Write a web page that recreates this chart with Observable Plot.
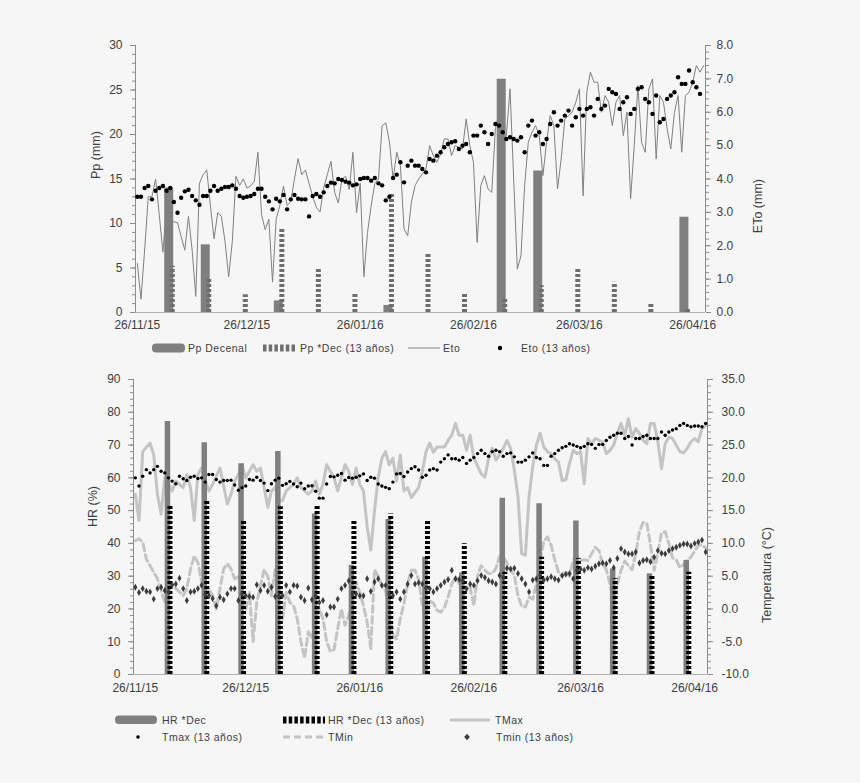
<!DOCTYPE html>
<html>
<head>
<meta charset="utf-8">
<script src="https://cdn.jsdelivr.net/npm/d3@7"></script>
<script src="https://cdn.jsdelivr.net/npm/@observablehq/plot@0.6"></script>
<style>
  html, body { margin: 0; padding: 0; background: #f6f6f6; }
  #root { position: relative; width: 860px; height: 783px; font-family: "Liberation Sans", Arial, sans-serif; color: #404040; }
  .abs { position: absolute; }
  .lg { position: absolute; font-size: 10.5px; line-height: 12px; letter-spacing: 0.5px; color: #404040; white-space: nowrap; }
</style>
</head>
<body>
<div id="root">
  <div id="top" class="abs" style="left:0;top:0"></div>
  <div id="leg1" class="abs" style="left:0;top:340px;width:860px;height:20px"></div>
  <div id="bot" class="abs" style="left:0;top:360px"></div>
  <div id="leg2" class="abs" style="left:0;top:705px;width:860px;height:45px"></div>
</div>
<script>
// ---------- DATA ----------
const tickDays = [0, 30, 61, 92, 121, 152];
const tickLabels = ["26/11/15", "26/12/15", "26/01/16", "26/02/16", "26/03/16", "26/04/16"];

// dekad positions (day index from 26/11/15)
const dekadDays = [9, 19, 29, 39, 49, 59, 69, 79, 89, 100, 110, 120, 130, 140, 150];
const ppDecenal = [14.0, 7.6, 0, 1.3, 0, 0, 0.8, 0, 0, 26.2, 15.9, 0, 0, 0, 10.7];
const ppDec13 = [5.2, 3.7, 2.0, 9.5, 5.0, 2.2, 13.4, 6.7, 2.1, 1.5, 3.0, 5.0, 3.4, 0.9, 0.45];

// daily ETo (mm), day 0 = 26/11/15
const etoDaily = [
  1.47, 0.40, 1.87, 3.47, 3.47, 4.00, 2.93, 1.81, 3.20, 2.72,
  2.72, 2.69, 2.27, 1.87, 2.88, 1.87, 0.48, 3.87, 4.13, 4.27,
  3.20, 2.21, 2.99, 2.88, 2.13, 1.07, 2.13, 4.08, 3.81, 4.00,
  3.73, 3.79, 3.92, 4.80, 2.93, 2.48, 2.80, 0.91, 2.80, 3.20,
  3.79, 3.20, 3.33, 4.00, 4.61, 4.13, 4.27, 3.87, 3.47, 3.15,
  3.01, 3.73, 4.13, 4.53, 3.60, 3.28, 4.00, 4.08, 3.68, 4.80,
  2.99, 3.87, 1.07, 2.40, 3.20, 3.87, 4.00, 5.60, 5.68, 5.12,
  4.00, 4.80, 4.40,
  2.5, 2.3, 3.3, 3.8, 4.0, 4.15, 4.3, 5.0, 4.7, 4.5,
  4.75, 5.2, 5.2, 4.7, 5.0, 4.95, 4.9, 5.8, 5.0, 4.5,
  2.1, 3.8, 4.1, 3.7, 3.6, 5.5, 6.0, 5.1, 5.3, 6.7,
  4.0, 1.3, 1.7, 3.8, 5.1, 5.4, 5.6, 5.3, 4.1, 5.1,
  5.9, 5.6, 3.7, 4.6, 5.8, 5.9, 6.0, 6.3, 6.7, 3.5,
  6.6, 7.2, 6.9, 6.9, 6.0, 6.5, 6.3, 5.6, 6.3, 6.5,
  5.3, 6.0, 3.4, 5.0, 6.8, 5.1, 4.8, 6.7, 7.0, 4.6,
  6.5, 6.3, 5.5, 4.9, 6.0, 6.5, 4.8, 6.5, 6.6, 6.9,
  7.4, 7.2, 7.4
];

// daily ETo 13-year mean (mm)
const etoAvg13 = [
  3.47, 3.47, 3.73, 3.79, 3.39, 3.65, 3.73, 3.79, 3.65, 3.73,
  3.31, 2.99, 3.44, 3.63, 3.68, 3.49, 3.36, 3.23, 3.49, 3.49,
  3.65, 3.79, 3.65, 3.71, 3.76, 3.76, 3.81, 3.71, 3.49, 3.44,
  3.47, 3.49, 3.55, 3.71, 3.71, 3.47, 3.33, 3.09, 3.41, 3.33,
  3.52, 3.09, 3.39, 3.52, 3.41, 3.39, 3.39, 2.88, 3.49, 3.55,
  3.47, 3.60, 3.79, 3.89, 3.87, 4.00, 3.97, 3.92, 3.89, 3.81,
  3.84, 4.00, 4.03, 4.03, 3.95, 4.03, 3.87, 3.81, 3.36, 3.47,
  4.03, 4.13,
  4.5, 3.9, 4.4, 4.55, 4.4, 4.4, 4.3, 4.2, 4.6, 4.55,
  4.7, 4.8, 4.95, 5.05, 5.1, 5.13, 4.9, 5.0, 5.05, 4.8,
  5.3, 5.3, 5.6, 5.4, 5.05, 5.35, 5.65, 5.6, 5.4, 5.2,
  5.25, 5.2, 5.15, 5.25, 4.8, 5.6, 5.75, 5.3, 5.4, 5.05,
  5.2, 5.65, 6.0, 5.6, 5.75, 5.9, 6.05, 5.6, 5.85, 6.1,
  5.9, 6.1, 6.15, 5.9, 6.4, 6.1, 6.2, 6.7, 6.6, 6.55,
  6.1, 6.3, 6.45, 5.95, 6.1, 6.7, 6.75, 6.4, 6.3, 5.95,
  6.5, 5.7, 5.8, 6.4, 6.5, 6.6, 7.05, 6.85, 6.85, 7.25,
  6.9, 6.75, 6.55
];

// HR per dekad (%)
const hrDec = [77.2, 70.7, 64.3, 68.0, 49.0, 33.3, 47.3, 35.8, 31.0, 53.8, 52.1, 46.8, 32.2, 30.7, 34.8];
const hrDec13 = [51.6, 53.3, 47.0, 51.2, 51.3, 46.8, 49.0, 46.8, 39.9, 31.2, 35.8, 35.3, 29.2, 30.2, 31.2];

// daily max temperature (°C)
const tmaxDays = [0,1,2,4,5,6,7,8,9,10,11,13,14,15,16,17,18,19,20,21,23,25,26,27,28,29,30,31,32,33,34,36,37,38,39,40,41,43,44,45,47,48,49,50,51,52,54,55,56,57,58,59,60,61,62,63,64,65,66,67,68,69,70,71,72,73,74,75,77,78,79,80,81,82,84,85,86,87,88,89,90,91,92,94,95,96,97,98,100,101,102,103,104,105,106,107,108,109,110,111,112,113,114,115,116,117,118,119,120,121,122,123,124,125,127,128,129,130,131,132,133,134,135,136,137,138,139,140,141,142,143,144,145,146,147,148,149,150,151,152,153,154,155];
const tmaxVals = [17.5,13.5,24,25.3,23.5,17.5,14.5,20,19,18,19.5,18.5,20.5,18.5,13.5,20.5,21.5,19.5,18,19,21.5,16,17.5,19.5,20.5,22,20,21,22,21,21.5,15.5,18,18.5,16.5,16.5,18,19,20,18.5,17.5,18,19.5,17.5,19,22,20,18,20,22,21,19,21.5,19,18,12.5,9,15,20,23,24,22,23,19.5,23.5,18,18.5,17,18.5,21,24,25.3,23.9,24.7,24.7,25.7,26.5,28.3,26.5,26.5,24.2,26.5,23.0,20.6,20.1,22.9,24.5,22.7,24.5,25.7,24.5,21.2,17.1,8.4,8.2,17.1,21.7,25.0,26.8,24.7,24.0,23.7,22.9,22.4,19.6,19.7,22.2,24.2,23.7,24.0,19.1,26.0,25.2,26.0,25.5,23.7,24.2,25.0,26.8,28.3,26.5,29.0,26.2,27.5,26.8,25.7,25.2,28.3,28.3,25.5,21.4,25.2,26.2,26.0,25.0,24.0,23.8,24.5,25.5,26.0,25.5,27.5,28.0];

// daily Tmax 13-year mean (°C)
const tmax13 = [
  20, 18.75, 20.25, 21.25, 20.75, 21.25, 21.75, 21, 20.75, 20,
  19.5, 19.1, 20.25, 19.85, 19.6, 20.1, 20.25, 19.9, 20, 19.35,
  20.5, 20.5, 19.75, 19.35, 19.6, 19.6, 19.65, 18.9, 18.1, 18.5,
  18.75, 19.75, 19.65, 20.1, 19.6, 19.2, 18.05, 19.1, 19.65, 19.95,
  18.85, 19.1, 19.45, 19.05, 18.65, 19.2, 18.35, 18.75, 18.8, 17.95,
  16.9, 16.9, 19.05, 20.2, 20.15, 20.4, 20.65, 19.65, 20.05, 19.95,
  20.1, 20.3, 20.6, 19.6, 20.1, 19.95, 19.05, 18.75, 18.55, 18.35,
  19.35, 20.6,
  20.65, 20.2, 20.9, 21.4, 21.7, 21.2, 20.1, 20.4, 21.2, 21.4,
  21.2, 22.4, 22.9, 23.5, 22.9, 22.9, 22.7, 23.1, 22.2, 22.7,
  23.1, 23.7, 24.2, 23.7, 23.3, 24.0, 24.2, 24.0, 23.3, 23.7,
  23.8, 23.2, 22.4, 22.4, 22.7, 23.2, 23.8, 23.1, 22.9, 21.9,
  21.9, 23.3, 23.7, 24.2, 24.6, 24.8, 25.2, 25.0, 24.8, 24.6,
  24.8, 25.2, 25.1, 24.5, 25.1, 25.1, 25.7, 26.2, 26.5, 26.8,
  26.8, 26.0, 26.3, 25.0, 26.0, 26.0, 26.3, 26.5, 26.0, 26.0,
  26.0, 27.0, 26.5, 27.0, 27.3, 27.5, 28.0, 28.3, 28.0, 27.8,
  27.9, 27.9, 27.8, 28.3
];

// daily min temperature (°C)
const tmin = [
  10.4, 10.7, 10.2, 7.6, 6.6, 5.6, 4.6, 2.8, 1.0, 2.6,
  3.8, 3.1, 2.6, 2.0, 3.1, 6.1, 8.1, 7.1, 4.1, 2.6,
  3.1, 2.0, 0.0, 3.1, 6.1, 6.9, 6.1, 4.6, 5.1, 2.0,
  0.0, 2.5, -5.0, 1.0, 3.5, 6.0, 5.0, 2.0, 6.0, 0.0,
  -1.5, 2.5, 1.0, 0.5, -1.5, -5.0, -7.5, -3.5, -4.5, -2.0,
  0.0, -1.5, -5.0, -6.5, -6.2, -3.0, 0.0, -2.5, -1.0, 1.5,
  4.1, 2.5, 0.5, -2.0, -6.1, 6.0, 5.0, 3.5, 2.8, 0.0,
  -4.0, -4.6, -1.5,
  0.8, 3.8, 5.9, 5.9, 4.5, 0.5, -1.8, 1.2, 0.9, -0.2,
  -0.5, 0.2, 1.8, 3.8, 4.9, 3.8, 1.8, 2.8, 3.3, 0.5,
  5.0, 6.6, 5.9, 5.4, 5.4, 6.2, 8.0, 8.0, 7.0, 5.9,
  5.2, 2.0, 0.4, 0.3, 1.8, 1.5, 3.8, 7.5, 10.3, 11.0,
  9.7, 7.5, 5.6, 4.9, 5.8, 5.0, 7.5, 8.1, 7.4, 7.5,
  7.4, 8.4, 9.4, 8.9, 6.9, 6.0, 3.8, 1.1, 3.8, 5.9,
  7.3, 6.6, 6.0, 8.5, 11.8, 13.2, 13.1, 9.8, 5.9, 8.6,
  11.6, 11.8, 10.0, 7.8, 7.5, 6.3, 6.8, 7.4, 7.9, 8.8,
  9.7, 9.8, 9.3
];

// daily Tmin 13-year mean (°C)
const tmin13 = [
  3.3, 2.5, 3.1, 2.7, 2.6, 1.5, 3.1, 3.3, 2.8, 2.6,
  3.7, 3.8, 4.7, 3.1, 1.3, 2.6, 2.7, 3.1, 3.6, 2.2,
  2.0, 1.6, 0.5, 1.8, 1.4, 2.3, 3.1, 3.1, 1.3, 2.3,
  2.0, 1.9, 1.8, 3.7, 2.8, 3.6, 2.7, 3.3, 1.9, 2.0,
  2.0, 3.6, 2.6, 3.6, 3.5, 1.8, 1.3, 3.2, 1.4, 2.0,
  1.0,
  1.3, -0.9, 0.3, 0.3, 1.5, 3.1, 3.6, 4.3, 2.3, 2.3,
  2.0, 2.0, 4.6, 2.7, 4.1, 4.6, 3.6, 3.6, 2.3, 2.0,
  2.6, 1.5, 2.6, 3.8, 5.1, 3.8, 4.0, 3.8, 3.2, 3.1,
  2.6, 3.1, 3.6, 4.1, 4.5, 5.9, 4.6, 4.5, 4.3, 3.1,
  3.8, 3.6, 4.3, 5.1, 4.8, 4.3, 4.1, 3.8, 5.1, 4.8,
  6.2, 6.1, 6.2,
  5.4, 4.6, 3.8, 2.6, 4.4, 4.6, 5.1, 4.4, 4.6, 4.9,
  4.6, 4.4, 5.1, 5.3, 5.4, 4.6, 5.9, 6.1, 5.9, 6.3,
  6.1, 6.5, 6.9, 7.0, 6.9, 7.4, 6.3, 7.7, 9.2, 8.7,
  8.4, 8.4, 8.7, 7.0, 7.4, 7.5, 7.2, 7.9, 8.9, 8.5,
  8.4, 8.9, 9.2, 9.4, 9.7, 9.9, 9.9, 9.6, 10.0, 10.2,
  10.5, 8.7
];

// ---------- CHARTS ----------
const FONT = '"Liberation Sans", Arial, sans-serif';
const AX = "#8c8c8c", TXT = "#404040";
const ppToEto = 8 / 30;            // right-axis conversion (top)
const hrOfT = t => (t + 10) * 2;   // temperature -> HR scale (bottom)
const xFmt = d => tickLabels[tickDays.indexOf(d)];

const topChart = Plot.plot({
  width: 860, height: 340,
  marginLeft: 135, marginRight: 155, marginTop: 45, marginBottom: 28,
  style: { background: "transparent", fontFamily: FONT, fontSize: "12px", color: TXT },
  x: { domain: [-0.5, 155.5] },
  y: { domain: [0, 30] },
  marks: [
    Plot.axisY({ ticks: d3.range(0, 31, 1), tickSize: 3, tickFormat: () => "", stroke: AX, label: null }),
    Plot.axisY({ ticks: d3.range(0, 31, 5), tickSize: 5, tickPadding: 8, stroke: AX, fill: TXT, label: null }),
    Plot.axisY({ anchor: "right", ticks: d3.range(0, 41, 1).map(v => v * 0.2 / ppToEto), tickSize: 3, tickFormat: () => "", stroke: AX, label: null }),
    Plot.axisY({ anchor: "right", ticks: d3.range(0, 9).map(v => v / ppToEto), tickSize: 5, tickPadding: 6, stroke: AX, fill: TXT, tickFormat: v => (v * ppToEto).toFixed(1), label: null }),
    Plot.axisX({ ticks: tickDays, tickSize: 0, tickPadding: 8, tickFormat: xFmt, fill: TXT, label: null }),
    Plot.ruleX([-0.5], { stroke: AX }),
    Plot.ruleX([155.5], { stroke: AX }),
    Plot.ruleY([0], { stroke: "#b0b0b0" }),
    Plot.line(etoDaily, { x: (d, i) => i, y: d => d / ppToEto, stroke: "#808080", strokeWidth: 1 }),
    Plot.ruleX(ppDecenal, { x: (d, i) => dekadDays[i], y1: 0, y2: d => d, stroke: "#7f7f7f", strokeWidth: 9, dx: -1.5 }),
    Plot.ruleX(ppDec13, { x: (d, i) => dekadDays[i], y1: 0, y2: d => d, stroke: "#6e6e6e", strokeWidth: 5, strokeDasharray: "3,2", dx: 2 }),
    Plot.dot(etoAvg13, { x: (d, i) => i, y: d => d / ppToEto, r: 2.2, fill: "#000", stroke: "none" }),
    Plot.text(["Pp (mm)"], { frameAnchor: "left", dx: -40, rotate: -90, fontSize: 12.5, fill: TXT }),
    Plot.text(["ETo (mm)"], { frameAnchor: "right", dx: 52, rotate: -90, fontSize: 12.5, fill: TXT })
  ]
});
document.getElementById("top").appendChild(topChart);

const tmaxData = tmaxDays.map((d, i) => ({ d, v: tmaxVals[i] }));

const botChart = Plot.plot({
  width: 860, height: 340,
  marginLeft: 133, marginRight: 153, marginTop: 19, marginBottom: 26,
  style: { background: "transparent", fontFamily: FONT, fontSize: "12px", color: TXT },
  x: { domain: [-0.5, 155.5] },
  y: { domain: [0, 90] },
  marks: [
    Plot.axisY({ ticks: d3.range(0, 91, 2), tickSize: 3, tickFormat: () => "", stroke: AX, label: null }),
    Plot.axisY({ ticks: d3.range(0, 91, 10), tickSize: 5, tickPadding: 8, stroke: AX, fill: TXT, label: null }),
    Plot.axisY({ anchor: "right", ticks: d3.range(-10, 36, 1).map(hrOfT), tickSize: 3, tickFormat: () => "", stroke: AX, label: null }),
    Plot.axisY({ anchor: "right", ticks: d3.range(-10, 36, 5).map(hrOfT), tickSize: 5, tickPadding: 9, stroke: AX, fill: TXT, tickFormat: v => (v / 2 - 10).toFixed(1), label: null }),
    Plot.axisX({ ticks: tickDays, tickSize: 0, tickPadding: 9, tickFormat: xFmt, fill: TXT, label: null }),
    Plot.ruleX([-0.5], { stroke: AX }),
    Plot.ruleX([155.5], { stroke: AX }),
    Plot.ruleY([0], { stroke: "#b0b0b0" }),
    Plot.line(tmaxData, { x: "d", y: r => hrOfT(r.v), stroke: "#c4c4c4", strokeWidth: 3, curve: "linear" }),
    Plot.line(tmin, { x: (d, i) => i, y: d => hrOfT(d), stroke: "#c4c4c4", strokeWidth: 3, strokeDasharray: "7,4" }),
    Plot.ruleX(hrDec, { x: (d, i) => dekadDays[i], y1: 0, y2: d => d, stroke: "#7f7f7f", strokeWidth: 5.5, dx: -1 }),
    Plot.ruleX(hrDec13, { x: (d, i) => dekadDays[i], y1: 0, y2: d => d, stroke: "#000", strokeWidth: 5, strokeDasharray: "3,2", dx: 1.5 }),
    Plot.dot(tmax13, { x: (d, i) => i, y: d => hrOfT(d), r: 1.7, fill: "#000", stroke: "none" }),
    Plot.dot(tmin13, { x: (d, i) => i, y: d => hrOfT(d), r: 2.1, symbol: "diamond", fill: "#3c3c3c", stroke: "none" }),
    Plot.text(["HR (%)"], { frameAnchor: "left", dx: -41, rotate: -90, fontSize: 12.5, fill: TXT }),
    Plot.text(["Temperatura (°C)"], { frameAnchor: "right", dx: 59, rotate: -90, fontSize: 12.5, fill: TXT })
  ]
});
document.getElementById("bot").appendChild(botChart);

// ---------- LEGENDS ----------
function sw(left, top, w, h, inner) {
  return `<svg class="abs" style="left:${left}px;top:${top}px;overflow:visible" width="${w}" height="${h}">${inner}</svg>`;
}
function lbl(left, top, text) {
  return `<div class="lg" style="left:${left}px;top:${top}px">${text}</div>`;
}
document.getElementById("leg1").innerHTML =
  sw(152, 3, 34, 10, `<rect x="0" y="0.5" width="33" height="9" rx="4" fill="#7f7f7f"/>`) + lbl(188, 2, "Pp Decenal") +
  sw(263, 3, 35, 10, `<line x1="0" y1="5" x2="34" y2="5" stroke="#6e6e6e" stroke-width="7" stroke-dasharray="3.5,2.2"/>`) + lbl(300, 2, "Pp *Dec (13 años)") +
  sw(408, 3, 33, 10, `<line x1="0" y1="5" x2="32" y2="5" stroke="#808080" stroke-width="1"/>`) + lbl(443, 2, "Eto") +
  sw(496, 3, 8, 10, `<circle cx="4" cy="5" r="2.2" fill="#000"/>`) + lbl(521, 2, "Eto (13 años)");

document.getElementById("leg2").innerHTML =
  sw(115, 10, 43, 10, `<rect x="0" y="0.5" width="42" height="8.5" rx="4" fill="#7f7f7f"/>`) + lbl(162, 9, "HR *Dec") +
  sw(283, 10, 43, 10, `<line x1="0" y1="5" x2="42" y2="5" stroke="#000" stroke-width="7" stroke-dasharray="3.5,2.2"/>`) + lbl(328, 9, "HR *Dec (13 años)") +
  sw(450, 10, 41, 10, `<line x1="0" y1="5" x2="40" y2="5" stroke="#c4c4c4" stroke-width="3"/>`) + lbl(495, 9, "TMax") +
  sw(134, 27, 8, 10, `<circle cx="4" cy="5" r="1.8" fill="#000"/>`) + lbl(162, 26, "Tmax (13 años)") +
  sw(283, 27, 43, 10, `<line x1="0" y1="5" x2="42" y2="5" stroke="#c4c4c4" stroke-width="3" stroke-dasharray="7,4"/>`) + lbl(328, 26, "TMin") +
  sw(463, 27, 8, 10, `<path d="M4,1.8 L6.8,5 L4,8.2 L1.2,5 Z" fill="#3c3c3c"/>`) + lbl(496, 26, "Tmin (13 años)");
</script>
</body>
</html>
